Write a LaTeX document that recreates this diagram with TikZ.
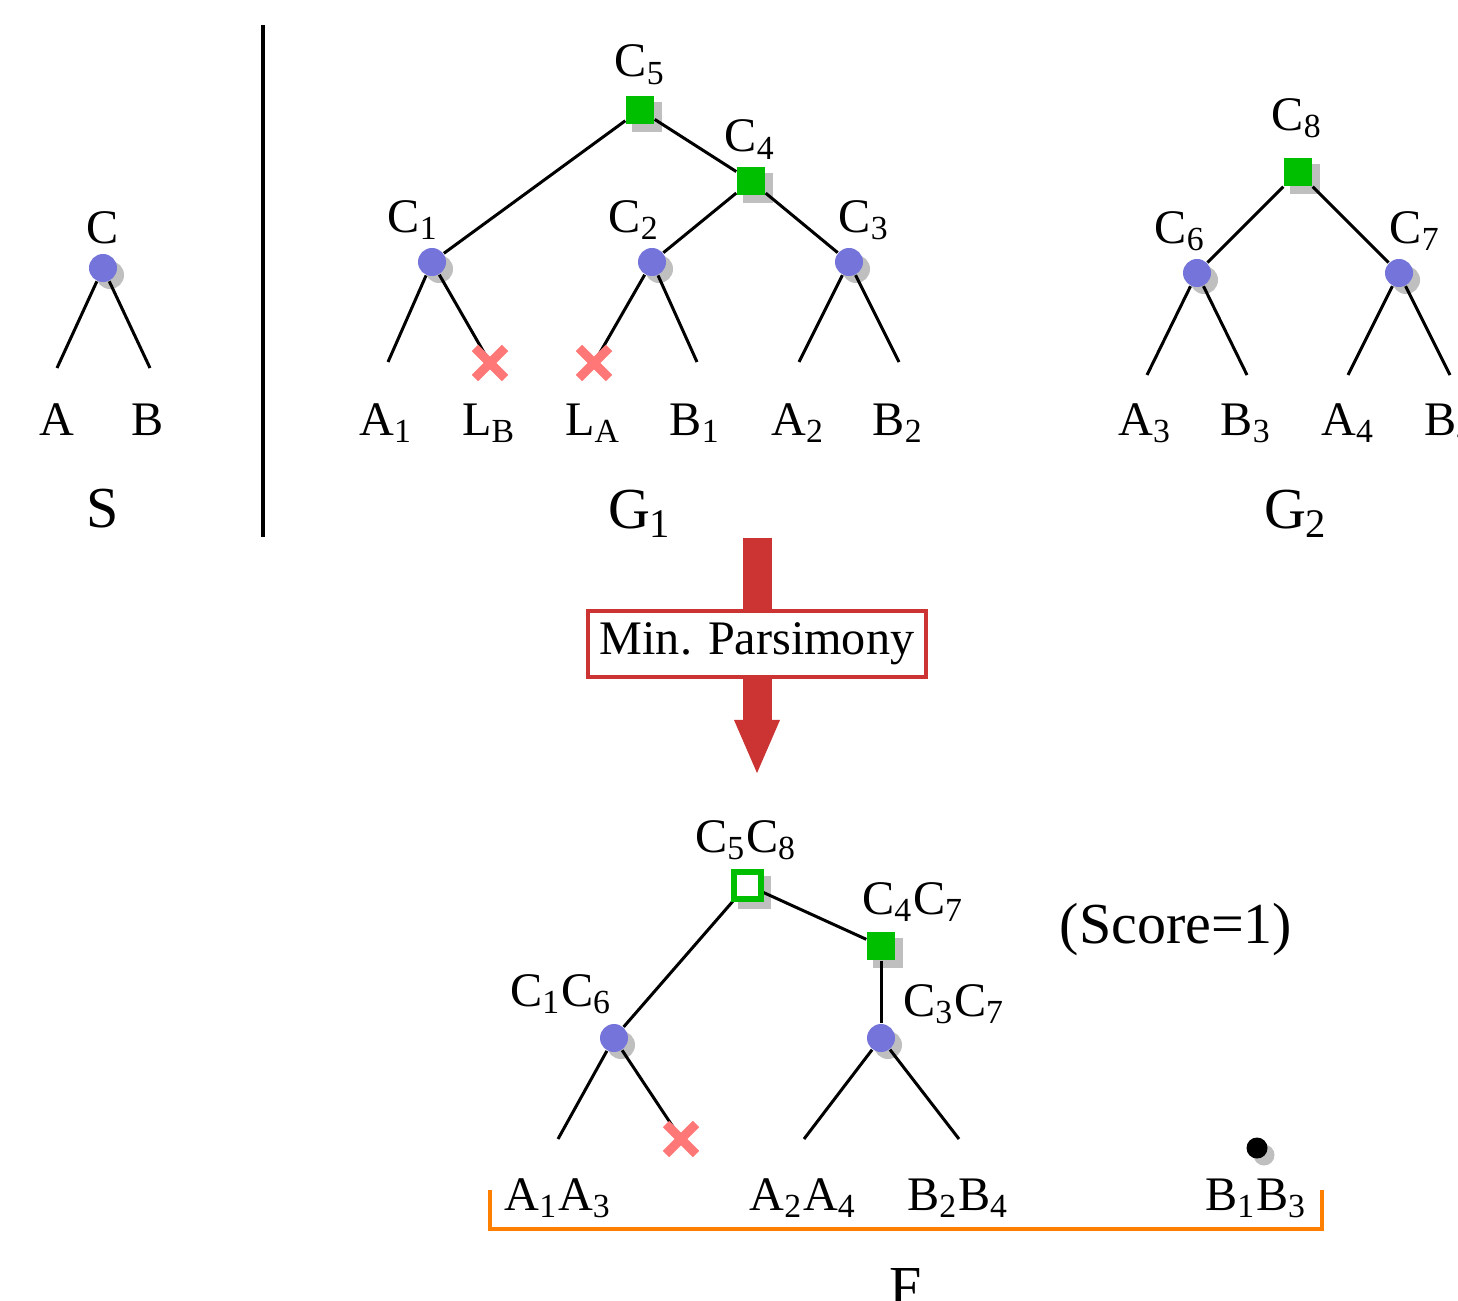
\documentclass[tikz,border=0pt]{standalone}
\usepackage{fontspec}
\setmainfont{Liberation Serif}
\usetikzlibrary{arrows.meta, shapes.misc, positioning}

\definecolor{specblue}{RGB}{116,116,219}
\definecolor{dupgreen}{RGB}{0,191,0}
\definecolor{lossred}{RGB}{255,119,119}
\definecolor{mpred}{RGB}{204,51,51}
\definecolor{forange}{RGB}{255,128,0}

\pgfdeclarelayer{shadow}
\pgfdeclarelayer{edges}
\pgfsetlayers{shadow,edges,main}

\begin{document}
\begin{tikzpicture}[x=0.01cm, y=-0.01cm,
    spec/.style={circle, fill=specblue, minimum size=0.28cm, inner sep=0pt},
    dup/.style={rectangle, fill=dupgreen, minimum size=0.28cm, inner sep=0pt},
    opendup/.style={rectangle, draw=dupgreen, line width=0.06cm, fill=white, minimum size=0.27cm, inner sep=0pt},
    loss/.style={cross out, draw=lossred, line width=0.09cm, minimum size=0.3cm, inner sep=0pt, outer sep=0pt},
    lbl/.style={anchor=base, inner sep=0pt, font=\fontsize{13.7}{16}\selectfont},
    biglbl/.style={anchor=base, inner sep=0pt, font=\fontsize{16.5}{20}\selectfont},
    branch/.style={line width=0.03cm}]
  \useasboundingbox (0,0) rectangle (1458,1300);

  % species tree S
  \node[spec] (c) at (103,268) {};
  \coordinate (sa) at (57,368);
  \coordinate (sb) at (150,368);
  \node[lbl] (lc) at (103,243) {C};
  \node[lbl] (la) at (57,435) {A};
  \node[lbl] (lb) at (148,435) {B};
  \node[biglbl] (ls) at (103,527) {S};

  \draw[line width=0.04cm] (263,25) -- (263,537);

  % gene tree G1
  \node[dup] (c5) at (640,110) {};
  \node[dup] (c4) at (751,181) {};
  \node[spec] (c1) at (432,262) {};
  \node[spec] (c2) at (652,262) {};
  \node[spec] (c3) at (849,262) {};
  \node[loss] (xlb) at (490,363) {};
  \node[loss] (xla) at (594,363) {};
  \coordinate (a1) at (388,362);
  \coordinate (b1) at (697,362);
  \coordinate (a2) at (799,362);
  \coordinate (b2) at (899,362);
  \node[lbl] (lc5) at (640,77) {C\textsubscript{5}};
  \node[lbl] (lc4) at (750,152) {C\textsubscript{4}};
  \node[lbl] (lc1) at (413,232) {C\textsubscript{1}};
  \node[lbl] (lc2) at (634,232) {C\textsubscript{2}};
  \node[lbl] (lc3) at (864,232) {C\textsubscript{3}};
  \node[lbl] (la1) at (386,435) {A\textsubscript{1}};
  \node[lbl] (llb) at (489,435) {L\textsubscript{B}};
  \node[lbl] (lla) at (593,435) {L\textsubscript{A}};
  \node[lbl] (lb1) at (695,435) {B\textsubscript{1}};
  \node[lbl] (la2) at (798,435) {A\textsubscript{2}};
  \node[lbl] (lb2) at (898,435) {B\textsubscript{2}};
  \node[biglbl] (lg1) at (640,528) {G\textsubscript{1}};

  % gene tree G2
  \node[dup] (c8) at (1298,172) {};
  \node[spec] (c6) at (1197,273) {};
  \node[spec] (c7) at (1399,273) {};
  \coordinate (a3) at (1147,375);
  \coordinate (b3) at (1247,375);
  \coordinate (a4) at (1348,375);
  \coordinate (b4) at (1450,375);
  \node[lbl] (lc8) at (1297,130) {C\textsubscript{8}};
  \node[lbl] (lc6) at (1180,243) {C\textsubscript{6}};
  \node[lbl] (lc7) at (1415,243) {C\textsubscript{7}};
  \node[lbl] (la3) at (1145,435) {A\textsubscript{3}};
  \node[lbl] (lb3) at (1246,435) {B\textsubscript{3}};
  \node[lbl] (la4) at (1348,435) {A\textsubscript{4}};
  \node[lbl] (lb4) at (1450,435) {B\textsubscript{4}};
  \node[biglbl] (lg2) at (1296,528) {G\textsubscript{2}};

  % min. parsimony step
  \coordinate (mpfrom) at (757,538);
  \coordinate (mpto) at (757,773);
  \node[draw=mpred, line width=0.04cm, fill=white, minimum width=3.37cm, minimum height=0.65cm,
        inner sep=0pt, font=\fontsize{13.7}{16}\selectfont] (mp) at (757,644) {Min. Parsimony};

  % forest F
  \node[opendup] (f58) at (747,885) {};
  \node[dup] (f47) at (881,946) {};
  \node[spec] (f16) at (614,1038) {};
  \node[spec] (f37) at (881,1038) {};
  \node[loss] (xf) at (681,1139) {};
  \node[circle, fill=black, minimum size=0.21cm, inner sep=0pt] (dot) at (1257,1148) {};
  \coordinate (fa13) at (558,1139);
  \coordinate (fa24) at (804,1139);
  \coordinate (fb24) at (959,1139);
  \node[lbl] (lf58) at (746,852) {C\textsubscript{5}C\textsubscript{8}};
  \node[lbl] (lf47) at (913,914) {C\textsubscript{4}C\textsubscript{7}};
  \node[lbl] (lf16) at (561,1006) {C\textsubscript{1}C\textsubscript{6}};
  \node[lbl] (lf37) at (954,1016) {C\textsubscript{3}C\textsubscript{7}};
  \node[lbl] (la13) at (558,1210) {A\textsubscript{1}A\textsubscript{3}};
  \node[lbl] (la24) at (803,1210) {A\textsubscript{2}A\textsubscript{4}};
  \node[lbl] (lb24) at (958,1210) {B\textsubscript{2}B\textsubscript{4}};
  \node[lbl] (lb13) at (1256,1210) {B\textsubscript{1}B\textsubscript{3}};
  \node[biglbl] (score) at (1176,943) {(Score=1)};
  \node[biglbl] (lf) at (906,1306) {F};
  \draw[forange, line width=0.04cm] (490,1190) -- (490,1229) -- (1322,1229) -- (1322,1190);

  \begin{pgfonlayer}{edges}
    \draw[branch] (c) -- (sa);
    \draw[branch] (c) -- (sb);
    \draw[branch] (c5) -- (c1);
    \draw[branch] (c5) -- (c4);
    \draw[branch] (c4) -- (c2);
    \draw[branch] (c4) -- (c3);
    \draw[branch] (c1) -- (a1);
    \draw[branch] (c1) -- (xlb.center);
    \draw[branch] (c2) -- (xla.center);
    \draw[branch] (c2) -- (b1);
    \draw[branch] (c3) -- (a2);
    \draw[branch] (c3) -- (b2);
    \draw[branch] (c8) -- (c6);
    \draw[branch] (c8) -- (c7);
    \draw[branch] (c6) -- (a3);
    \draw[branch] (c6) -- (b3);
    \draw[branch] (c7) -- (a4);
    \draw[branch] (c7) -- (b4);
    \draw[branch] (f58) -- (f16);
    \draw[branch] (f58) -- (f47);
    \draw[branch] (f47) -- (f37);
    \draw[branch] (f16) -- (fa13);
    \draw[branch] (f16) -- (xf.center);
    \draw[branch] (f37) -- (fa24);
    \draw[branch] (f37) -- (fb24);
    \draw[mpred, line width=0.29cm, -{Triangle[length=0.53cm, width=0.46cm, line width=0pt]}] (mpfrom) -- (mpto);
  \end{pgfonlayer}

  \begin{pgfonlayer}{shadow}
    \foreach \n in {c, c1, c2, c3, c6, c7, f16, f37}
      \fill[black!25] ([shift={(7,7)}]\n.center) circle (0.14cm);
    \foreach \n in {c5, c4, c8, f58, f47}
      \fill[black!25] ([shift={(7,7)}]\n.south west) rectangle ([shift={(7,7)}]\n.north east);
    \fill[black!25] ([shift={(7,7)}]dot.center) circle (0.105cm);
  \end{pgfonlayer}
\end{tikzpicture}
\end{document}
